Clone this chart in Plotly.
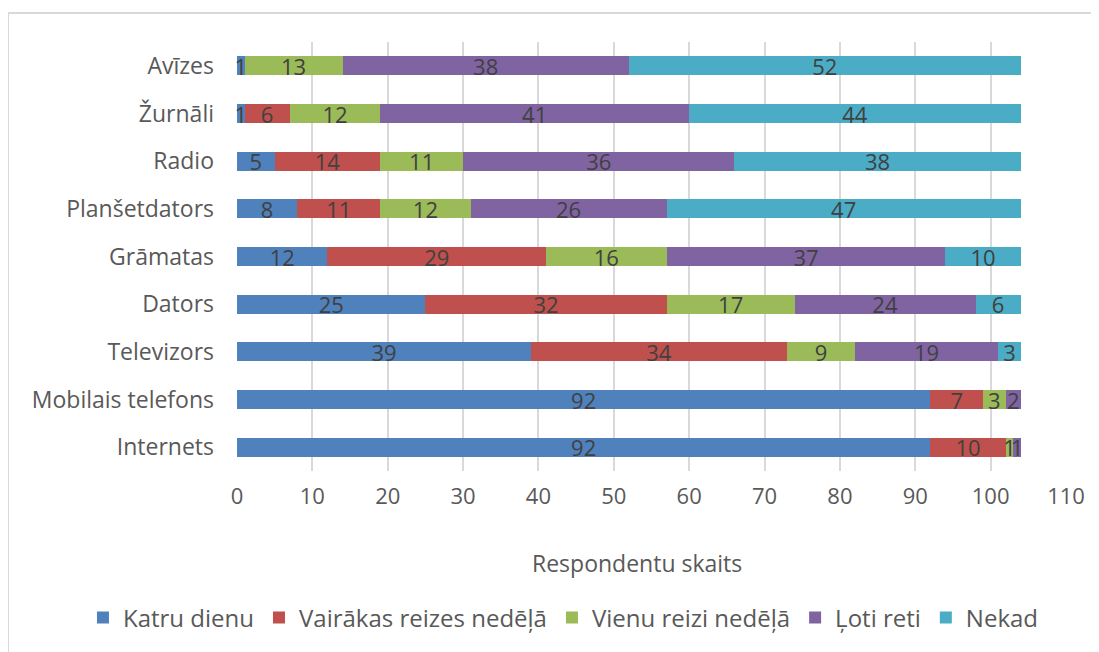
import plotly.graph_objects as go

categories = ["Internets", "Mobilais telefons", "Televizors", "Dators", "Grāmatas",
              "Planšetdators", "Radio", "Žurnāli", "Avīzes"]
series_names = ["Katru dienu", "Vairākas reizes nedēļā", "Vienu reizi nedēļā", "Ļoti reti", "Nekad"]
katru_dienu = [92, 92, 39, 25, 12, 8, 5, 1, 1]
vairakas_reizes = [10, 7, 34, 32, 29, 11, 14, 6, 0]
vienu_reizi = [1, 3, 9, 17, 16, 12, 11, 12, 13]
loti_reti = [1, 2, 19, 24, 37, 26, 36, 41, 38]
nekad = [0, 0, 3, 6, 10, 47, 38, 44, 52]
x_ticks = list(range(0, 111, 10))
axis_title = "Respondentu skaits"

colors = ["#4F81BD", "#C0504D", "#9BBB59", "#8064A2", "#4BACC6"]
series = [katru_dienu, vairakas_reizes, vienu_reizi, loti_reti, nekad]

FONT = "Open Sans"
TXT = "#595959"
fig = go.Figure()
for name, vals, col in zip(series_names, series, colors):
    fig.add_trace(go.Bar(
        y=categories, x=vals, name=name, orientation="h",
        marker=dict(color=col, line=dict(width=0)),
        text=[str(v) if v else "" for v in vals],
        textposition="inside", insidetextanchor="middle", textangle=0,
        textfont=dict(color="#404040", size=22, family=FONT),
        constraintext="none",
        cliponaxis=False,
    ))

# plot area (page px): x 237..1066, y 42..471 ; page offset of figure is 8px
fig.update_layout(
    barmode="stack",
    bargap=0.6,
    width=1099, height=652,
    autosize=False,
    margin=dict(l=229, r=41, t=34, b=189, autoexpand=False),
    paper_bgcolor="white", plot_bgcolor="white",
    font=dict(family=FONT, color=TXT, size=22),
    uniformtext=dict(minsize=22, mode="show"),
    showlegend=True,
    legend=dict(orientation="h", x=-0.1858, xanchor="left", xref="paper",
                y=-0.3427, yanchor="middle", yref="paper",
                font=dict(size=24, color=TXT),
                itemwidth=30, traceorder="normal"),
    xaxis=dict(range=[0, 110], tickvals=x_ticks, showgrid=True, gridcolor="#D9D9D9",
               gridwidth=2, zeroline=False, showline=False, ticks="", tickangle=0,
               tickfont=dict(size=22, color=TXT), automargin=False, ticklabelstandoff=10),
    yaxis=dict(showgrid=False, zeroline=False, showline=False, ticks="", automargin=False,
               ticklabelstandoff=22, tickfont=dict(size=23, color=TXT)),
    annotations=[dict(text=axis_title, xref="paper", yref="paper", x=0.4825, y=-0.2145,
                      xanchor="center", yanchor="middle", showarrow=False,
                      font=dict(size=23, color=TXT))],
    shapes=[dict(type="rect", xref="paper", yref="paper", x0=-0.2762, x1=1.2,
                 y0=-0.6, y1=1.0676, line=dict(color="#D9D9D9", width=2))],
)
fig.write_html("out.html")
